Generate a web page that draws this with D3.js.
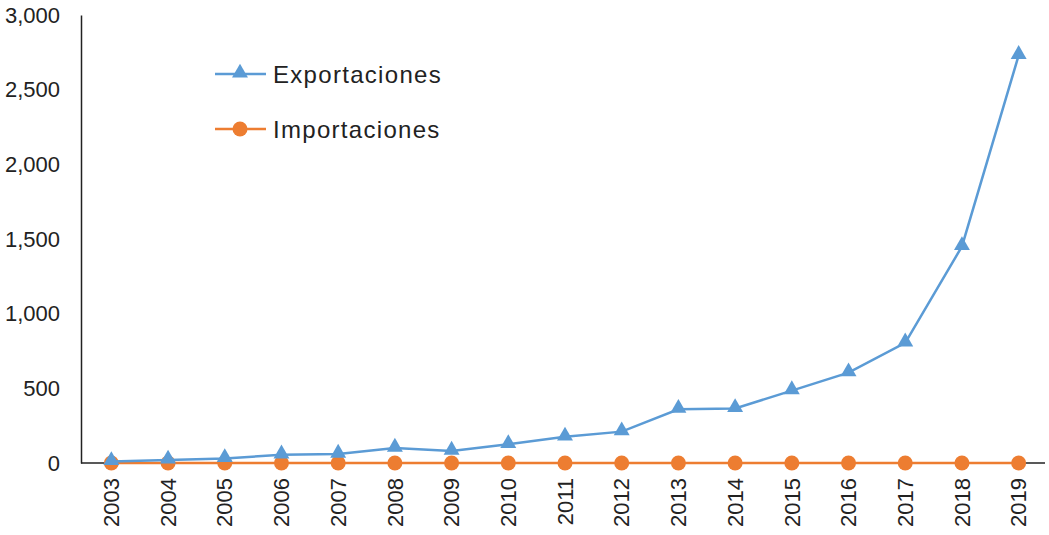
<!DOCTYPE html>
<html><head><meta charset="utf-8">
<script src="https://cdn.jsdelivr.net/npm/d3@7"></script>
<style>body{margin:0;background:#fff}svg{display:block}</style>
</head><body>
<svg id="c" width="1049" height="535"></svg>
<script>
const years = ["2003","2004","2005","2006","2007","2008","2009","2010","2011","2012","2013","2014","2015","2016","2017","2018","2019"];
const exportaciones = [10,20,30,55,60,100,80,125,175,210,360,365,485,605,805,1450,2730];
const importaciones = [0,0,0,0,0,0,0,0,0,0,0,0,0,0,0,0,0];
const yTicks = [0,500,1000,1500,2000,2500,3000];
const seriesNames = ["Exportaciones","Importaciones"];
const colors = ["#5B9BD5","#ED7D31"];

const svg = d3.select("#c");
const mLeft = 81, mRight = 1045, mTop = 15, mBottom = 463;
const x = d3.scaleBand().domain(years).range([mLeft + 2, mRight + 2]);
const y = d3.scaleLinear().domain([0,3000]).range([mBottom, mTop]);
const font = "'Liberation Sans', Arial, sans-serif";

// y axis
const ya = svg.append("g").attr("transform",`translate(${mLeft},0)`)
  .call(d3.axisLeft(y).tickValues(yTicks).tickSize(0).tickPadding(21).tickFormat(d3.format(",")));
ya.select(".domain").attr("stroke","#222").attr("stroke-width",1.5);
ya.selectAll("text").attr("font-family",font).attr("font-size","22px").attr("fill","#222");

// x axis
const xa = svg.append("g").attr("transform",`translate(0,${mBottom})`)
  .call(d3.axisBottom(x).tickSize(0).tickPadding(0));
xa.select(".domain").attr("d",`M${mLeft},0H${mRight}`).attr("stroke","#222").attr("stroke-width",1.5);
xa.selectAll("text").attr("font-family",font).attr("font-size","22px").attr("fill","#222")
  .attr("transform","rotate(-90)").attr("text-anchor","end").attr("dy","0.35em").attr("x",-15).attr("y",0);

const cx = d => x(d) + x.bandwidth()/2;
const line = d3.line().x((d,i)=>cx(years[i])).y(d=>y(d));
const tri = d3.symbol().type(d3.symbolTriangle).size(110);

// importaciones
svg.append("path").datum(importaciones).attr("d",line).attr("fill","none").attr("stroke",colors[1]).attr("stroke-width",2.5);
svg.selectAll(".imp").data(importaciones).enter().append("circle")
  .attr("cx",(d,i)=>cx(years[i])).attr("cy",d=>y(d)).attr("r",7.5).attr("fill",colors[1]);

// exportaciones
svg.append("path").datum(exportaciones).attr("d",line).attr("fill","none").attr("stroke",colors[0]).attr("stroke-width",2.5);
svg.selectAll(".exp").data(exportaciones).enter().append("path")
  .attr("d",tri).attr("transform",(d,i)=>`translate(${cx(years[i])},${y(d)-1})`).attr("fill",colors[0]);

// legend
const lg = svg.append("g");
seriesNames.forEach((name,i)=>{
  const ly = 74 + i*55;
  lg.append("line").attr("x1",215).attr("x2",266).attr("y1",ly).attr("y2",ly).attr("stroke",colors[i]).attr("stroke-width",2.5);
  if(i===0) lg.append("path").attr("d",tri).attr("transform",`translate(240,${ly-1})`).attr("fill",colors[0]);
  else lg.append("circle").attr("cx",240).attr("cy",ly).attr("r",7.5).attr("fill",colors[1]);
  lg.append("text").attr("x",273).attr("y",ly).attr("dy","0.36em").attr("font-family",font)
    .attr("font-size","24px").attr("letter-spacing","1.3px").attr("fill","#222").text(name);
});
</script>
</body></html>
